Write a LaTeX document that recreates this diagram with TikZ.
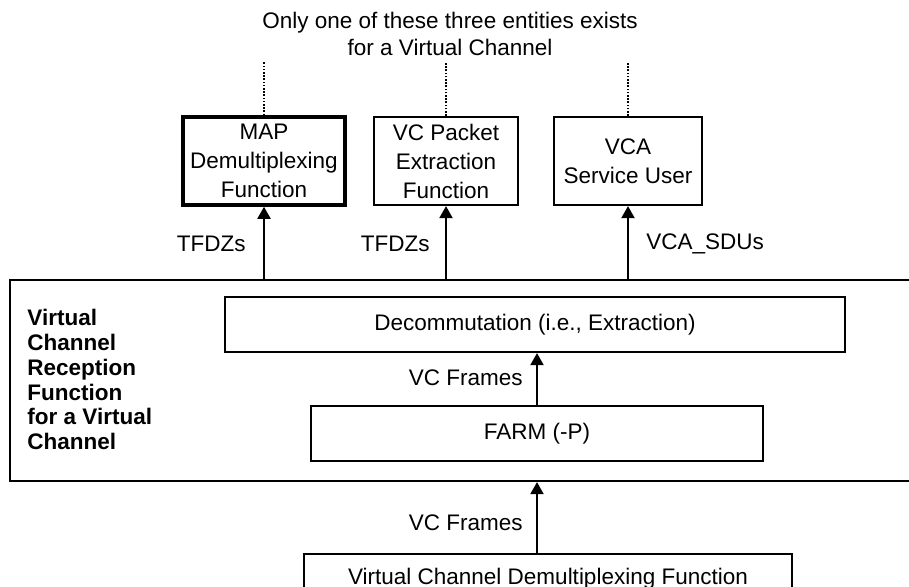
\documentclass[tikz,border=0pt]{standalone}
\usepackage{fontspec}
\setmainfont{Liberation Sans}
\usetikzlibrary{arrows.meta}

\begin{document}
\begin{tikzpicture}[x=0.5pt, y=-0.5pt,
    font=\fontsize{11.25}{14.5}\selectfont,
    box/.style={rectangle, draw=black, line width=1.1pt, align=center, inner sep=0pt},
    link/.style={-{Triangle[length=6pt,width=6.5pt]}, line width=1pt},
    dots/.style={line width=1pt, dash pattern=on 0.8pt off 0.8pt},
    lbl/.style={inner sep=0pt}]
    \useasboundingbox (0,0) rectangle (909,587);
    \clip (0,0) rectangle (909,587);

    \node [lbl, anchor=north, align=center, font=\fontsize{11.25}{13.5}\selectfont] (note) at (450,11.5) {Only one of these three entities exists\\for a Virtual Channel};

    % the three possible users
    \node [box, line width=1.8pt, minimum width=81pt, minimum height=44pt] (map) at (264,161) {MAP\\Demultiplexing\\Function};
    \node [box, minimum width=72pt, minimum height=44pt] (vcp) at (446,161) {VC Packet\\Extraction\\Function};
    \node [box, minimum width=74pt, minimum height=44pt] (vca) at (628,161) {VCA\\Service User};
    \coordinate (mapend) at (264,62);
    \coordinate (vcpend) at (446,62);
    \coordinate (vcaend) at (628,62);

    % reception function
    \node [box, minimum width=460pt, minimum height=100.5pt] (vcrf) at (470,380.5) {};
    \node [lbl, anchor=north west, align=left, font=\fontsize{11.25}{12.4}\selectfont\bfseries] (vcrftitle) at (27,309) {Virtual\\Channel\\Reception\\Function\\for a Virtual\\Channel};
    \node [box, minimum width=310pt, minimum height=27.5pt] (decom) at (535,324.5) {Decommutation (i.e., Extraction)};
    \node [box, minimum width=226pt, minimum height=27.5pt] (farm) at (537,433.5) {FARM (-P)};

    \node [box, anchor=north, minimum width=244pt, minimum height=25pt] (vcdemux) at (548,553) {Virtual Channel Demultiplexing Function};

    \draw [dots] (map.north) -- (mapend);
    \draw [dots] (vcp.north) -- (vcpend);
    \draw [dots] (vca.north) -- (vcaend);

    \draw [link] (vcrf.north -| map) -- (map.south);
    \draw [link] (vcrf.north -| vcp) -- (vcp.south);
    \draw [link] (vcrf.north -| vca) -- (vca.south);
    \draw [link] (farm.north) -- (farm.north |- decom.south);
    \draw [link] (vcdemux.north -| farm) -- (vcrf.south -| farm);

    \node [lbl, anchor=east] (tfdzmap) at (246,244) {TFDZs};
    \node [lbl, anchor=east] (tfdzvcp) at (430,244) {TFDZs};
    \node [lbl, anchor=west] (vcasdu) at (646,244) {VCA\_SDUs};
    \node [lbl, anchor=east] (framesup) at (523,378) {VC Frames};
    \node [lbl, anchor=east] (framesin) at (523,523) {VC Frames};
\end{tikzpicture}
\end{document}
